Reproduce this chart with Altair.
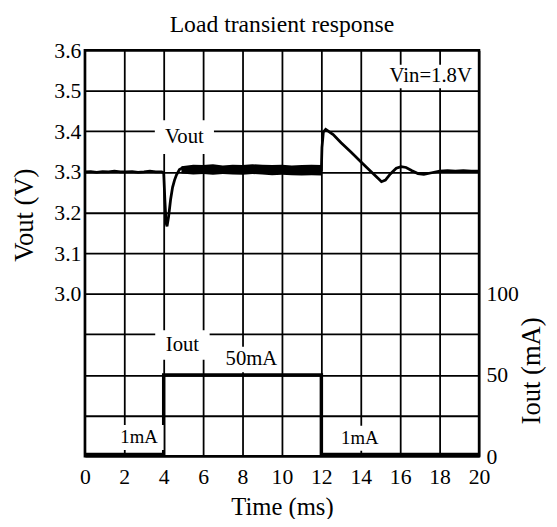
import altair as alt
import pandas as pd

# ---------------- data ----------------
vout_t = [0, 0.3, 0.6, 0.9, 1.2, 1.5, 1.8, 2.1, 2.4, 2.7, 3.0, 3.3, 3.6, 3.9,
          4.0, 4.06, 4.12, 4.17, 4.25, 4.35, 4.45, 4.55, 4.65, 4.8, 4.95,
          5.5, 6.5, 7.5, 8.5, 9.5, 10.5, 11.5, 12.0,
          12.03, 12.1, 12.22, 12.6, 13.0, 13.5, 14.0, 14.5, 14.9, 15.05, 15.25,
          15.5, 15.8, 16.05, 16.3, 16.6, 16.9, 17.2, 17.6, 18.0, 18.4, 18.8,
          19.2, 19.6, 20.0]
vout_v = [3.300, 3.301, 3.299, 3.301, 3.300, 3.302, 3.300, 3.300, 3.301, 3.299,
          3.300, 3.302, 3.300, 3.300,
          3.298, 3.230, 3.175, 3.166, 3.190, 3.232, 3.262, 3.280, 3.293, 3.306, 3.310,
          3.306, 3.307, 3.305, 3.306, 3.305, 3.306, 3.305, 3.305,
          3.360, 3.398, 3.405, 3.392, 3.372, 3.349, 3.325, 3.302, 3.283, 3.276, 3.280,
          3.295, 3.309, 3.313, 3.311, 3.303, 3.296, 3.294, 3.298, 3.302, 3.303, 3.302,
          3.303, 3.302, 3.302]

# noisy envelope of Vout while loaded
band_t = [4.9, 5.5, 6.0, 6.5, 7.0, 7.5, 8.0, 8.5, 9.0, 9.5, 10.0, 10.5, 11.0, 11.5, 12.0]
band_lo = [3.296, 3.294, 3.295, 3.293, 3.295, 3.294, 3.293, 3.295, 3.294, 3.292,
           3.293, 3.292, 3.291, 3.292, 3.291]
band_hi = [3.314, 3.318, 3.317, 3.319, 3.316, 3.318, 3.317, 3.319, 3.318, 3.317,
           3.318, 3.316, 3.317, 3.318, 3.317]

iout_t = [0, 4, 4, 12, 12, 20]
iout_ma = [1, 1, 50, 50, 1, 1]

t_ticks = [0, 2, 4, 6, 8, 10, 12, 14, 16, 18, 20]
v_ticks = [2.6, 2.7, 2.8, 2.9, 3.0, 3.1, 3.2, 3.3, 3.4, 3.5, 3.6]
i_ticks = [0, 50, 100]

vlab_text = ["Vout", "Vin=1.8V"]
vlab_t = [5.05, 17.55]
vlab_v = [3.386, 3.535]

ilab_text = ["Iout", "50mA", "1mA", "1mA"]
ilab_t = [4.95, 8.45, 2.75, 13.95]
ilab_i = [68.5, 59.5, 11.5, 11.0]

# ---------------- chart ----------------
FONT = "Liberation Serif"
xs = alt.Scale(domain=[0, 20], nice=False, zero=False)
vs = alt.Scale(domain=[2.6, 3.6], nice=False, zero=False)
iscale = alt.Scale(domain=[0, 250], nice=False)

vout_df = pd.DataFrame({"t": vout_t, "v": vout_v})
band_df = pd.DataFrame({"t": band_t, "lo": band_lo, "hi": band_hi})
iout_df = pd.DataFrame({"t": iout_t, "i": iout_ma})
vlab_df = pd.DataFrame({"text": vlab_text, "t": vlab_t, "v": vlab_v})
ilab_df = pd.DataFrame({"text": ilab_text, "t": ilab_t, "i": ilab_i})

x_axis = alt.Axis(values=t_ticks, grid=True, gridColor="black", gridWidth=1.8,
                  gridOpacity=1, tickSize=0, domain=False, labelFlush=False,
                  labelPadding=11, title="Time (ms)", titleY=51,
                  titleFontSize=25, titleBaseline="middle")
left_axis = alt.Axis(values=v_ticks, grid=True, gridColor="black", gridWidth=1.8,
                     gridOpacity=1, tickSize=0, domain=False,
                     labelPadding=4,
                     labelExpr="datum.value >= 2.95 ? format(datum.value, '.1f') : ''",
                     title="Vout (V)", titleAngle=270, titleX=-61, titleY=167,
                     titleFontSize=27, titleBaseline="middle", titleAlign="center")
right_axis = alt.Axis(orient="right", values=i_ticks, grid=False, tickSize=0,
                      domain=False, labelPadding=7, title="Iout (mA)",
                      titleAngle=270, titleX=53, titleY=325, titleFontSize=27,
                      titleBaseline="middle", titleAlign="center")

X = alt.X("t:Q", scale=xs, axis=x_axis)

vline = alt.Chart(vout_df).mark_line(color="black", strokeWidth=2.8).encode(
    x=X, y=alt.Y("v:Q", scale=vs, axis=left_axis),
)
band = alt.Chart(band_df).mark_area(color="black", opacity=1).encode(
    x=X, y=alt.Y("lo:Q", scale=vs, axis=None), y2="hi:Q"
)


def box(df, ycol, yscale, label, path):
    return alt.Chart(df).transform_filter(alt.datum.text == label).mark_point(
        shape=path, size=3600, filled=True, fill="white", strokeWidth=0, opacity=1
    ).encode(x=X, y=alt.Y(f"{ycol}:Q", scale=yscale, axis=None))


vbox1 = box(vlab_df, "v", vs, "Vout", "M-1,-0.57H1V0.57H-1Z")
vbox2 = box(vlab_df, "v", vs, "Vin=1.8V", "M-1.6,-0.4H1.55V0.4H-1.6Z")
vtext = alt.Chart(vlab_df).mark_text(font=FONT, fontSize=21, color="black",
                                     align="center", baseline="middle").encode(
    x=X, y=alt.Y("v:Q", scale=vs, axis=None), text="text:N"
)

iline = alt.Chart(iout_df).mark_line(color="black", strokeWidth=3.5).encode(
    x=X, y=alt.Y("i:Q", scale=iscale, axis=right_axis)
)
ibox1 = box(ilab_df, "i", iscale, "Iout", "M-0.92,-0.5H0.92V0.5H-0.92Z")
ibox2 = box(ilab_df, "i", iscale, "50mA", "M-1,-0.43H1V0.43H-1Z")
ibox3 = box(ilab_df, "i", iscale, "1mA", "M-0.83,-0.42H0.83V0.42H-0.83Z")
itext_big = alt.Chart(ilab_df).transform_filter(alt.datum.text != "1mA").mark_text(
    font=FONT, fontSize=21, color="black", align="center", baseline="middle"
).encode(x=X, y=alt.Y("i:Q", scale=iscale, axis=None), text="text:N")
itext_small = alt.Chart(ilab_df).transform_filter(alt.datum.text == "1mA").mark_text(
    font=FONT, fontSize=19, color="black", align="center", baseline="middle"
).encode(x=X, y=alt.Y("i:Q", scale=iscale, axis=None), text="text:N")

chart = alt.layer(
    vline, iline, band, vbox1, vbox2, ibox1, ibox2, ibox3, vtext, itext_big, itext_small
).resolve_scale(y="independent").properties(
    width=400, height=412,
    padding={"left": 78, "top": 39, "right": 71, "bottom": 60},
    autosize=alt.AutoSizeParams(type="none"),
    title=alt.TitleParams("Load transient response", font=FONT, fontSize=24,
                          fontWeight="normal", color="black", offset=2),
).configure_view(stroke="black", strokeWidth=2.5).configure_axis(
    labelFont=FONT, labelFontSize=22, labelColor="black",
    titleFont=FONT, titleFontSize=24, titleFontWeight="normal", titleColor="black",
)

chart.save("out.html", embed_options={"renderer": "svg", "actions": False})
